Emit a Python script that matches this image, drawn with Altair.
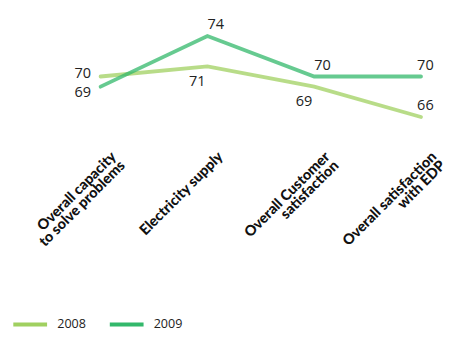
import altair as alt
import pandas as pd

categories = ["Overall capacity to solve problems", "Electricity supply",
              "Overall Customer satisfaction", "Overall satisfaction with EDP"]
tick_label_lines = [["Overall capacity", "to solve problems"], ["Electricity supply"],
                    ["Overall Customer", "satisfaction"], ["Overall satisfaction", "with EDP"]]
series = ["2008", "2009"]
values_2008 = [70, 71, 69, 66]
values_2009 = [69, 74, 70, 70]

rows = []
for s, vals in zip(series, [values_2008, values_2009]):
    for c, v in zip(categories, vals):
        rows.append({"category": c, "year": s, "value": v})
df = pd.DataFrame(rows)

# label expression building multi-line tick labels
expr = "''"
for c, lines in reversed(list(zip(categories, tick_label_lines))):
    arr = "[" + ",".join("'" + l + "'" for l in lines) + "]"
    expr = f"datum.label == '{c}' ? {arr} : ({expr})"

x_enc = alt.X("category:N", sort=categories,
              scale=alt.Scale(type="point", range=[96, 428], padding=0),
              axis=alt.Axis(title=None, domain=False, ticks=False, labelAngle=-45,
                            labelAlign="right", labelBaseline="top", labelOffset=8,
                            labelPadding=1, labelFont="Lato", labelFontWeight=900,
                            labelFontSize=15, labelColor="#111", labelExpr=expr,
                            labelLineHeight=13, labelLimit=300))
y_enc = alt.Y("value:Q", scale=alt.Scale(domain=[62.95, 76.19], nice=False, zero=False),
              axis=None)
color_enc = alt.Color("year:N", scale=alt.Scale(domain=series, range=["#a0d060", "#33b86b"]),
                      legend=alt.Legend(title=None, orient="none", legendX=14, legendY=313,
                                        direction="horizontal", symbolType="M-2.5,0H2.5",
                                        symbolSize=196, symbolStrokeWidth=4,
                                        symbolOpacity=1, labelFontSize=13,
                                        labelFont="Open Sans", labelColor="#222",
                                        labelOffset=19, columnPadding=16, padding=0))

base = alt.Chart(df).encode(x=x_enc, y=y_enc)
lines = base.mark_line(strokeWidth=4, opacity=0.75, strokeCap="round").encode(color=color_enc)

txt = dict(fontSize=15, font="Open Sans", color="#222")
first = base.transform_filter(alt.datum.category == categories[0])
lab_first_2009 = first.transform_filter(alt.datum.year == "2009").mark_text(
    align="right", baseline="middle", dx=-10, dy=6, **txt).encode(text="value:Q")
lab_first_2008 = first.transform_filter(alt.datum.year == "2008").mark_text(
    align="right", baseline="middle", dx=-10, dy=-3, **txt).encode(text="value:Q")
mid = base.transform_filter((alt.datum.category == categories[1]) | (alt.datum.category == categories[2]))
lab_above = mid.transform_filter(alt.datum.year == "2009").mark_text(
    align="left", baseline="middle", dx=0, dy=-12, **txt).encode(text="value:Q")
lab_below = mid.transform_filter(alt.datum.year == "2008").mark_text(
    align="right", baseline="middle", dx=-2, dy=15, **txt).encode(text="value:Q")
lab_last = base.transform_filter(alt.datum.category == categories[3]).mark_text(
    align="left", baseline="middle", dx=-4, dy=-12, **txt).encode(text="value:Q")

chart = alt.layer(lines, lab_first_2009, lab_first_2008, lab_above, lab_below, lab_last).properties(
    width=430, height=139, padding=0
).configure(background="white").configure_view(stroke=None)

chart.save("out.html", embed_options={"renderer": "svg", "actions": False})
